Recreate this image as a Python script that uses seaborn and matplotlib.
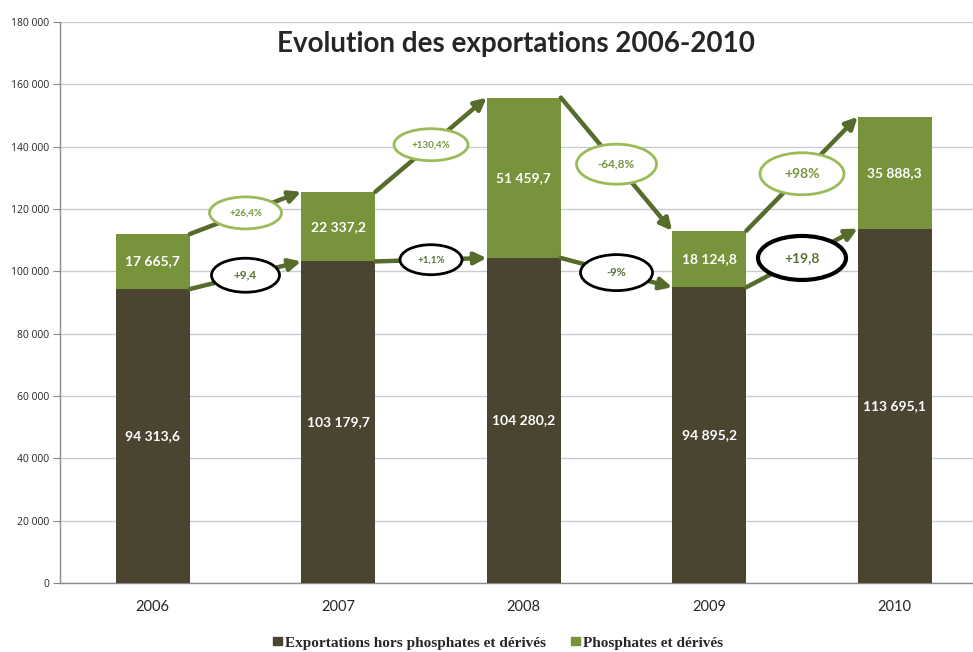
import matplotlib
matplotlib.use("Agg")
import matplotlib.pyplot as plt
from matplotlib.patches import Ellipse
import numpy as np
import pandas as pd
import seaborn as sbn

years = ["2006", "2007", "2008", "2009", "2010"]
hors_phosphates = [94313.6, 103179.7, 104280.2, 94895.2, 113695.1]
phosphates = [17665.7, 22337.2, 51459.7, 18124.8, 35888.3]
evol_hors = ["+9,4", "+1,1%", "-9%", "+19,8"]
evol_phos = ["+26,4%", "+130,4%", "-64,8%", "+98%"]
yticks = list(range(0, 180001, 20000))

dark = "#4a4430"
green = "#77933c"
arrow_col = "#566b2c"
light_green = "#9bbb59"

def fmt(v):
    s = "{:,.1f}".format(v).replace(",", " ").replace(".", ",")
    return s

sbn.set_style("white")
plt.rcParams["font.family"] = ["Lato", "DejaVu Sans"]

df = pd.DataFrame({"year": years, "hors": hors_phosphates, "phos": phosphates})
df["total"] = df["hors"] + df["phos"]

fig = plt.figure(figsize=(9.73, 6.52), dpi=100)
ax = fig.add_axes([60 / 973, 69 / 652, 927.5 / 973, 561 / 652])

sbn.barplot(data=df, x="year", y="total", color=green, width=0.4, ax=ax,
            saturation=1, zorder=3, linewidth=0)
sbn.barplot(data=df, x="year", y="hors", color=dark, width=0.4, ax=ax,
            saturation=1, zorder=3, linewidth=0)

ax.set_ylim(0, 180000)
ax.set_xlim(-0.5, 4.5)
ax.set_yticks(yticks)
ax.set_yticklabels(["{:,}".format(t).replace(",", " ") for t in yticks],
                   fontsize=7.5, family="Open Sans")
ax.yaxis.grid(True, color="#c9ccd4", lw=1, zorder=0)
ax.set_xlabel("")
ax.set_ylabel("")
ax.tick_params(axis="x", length=0, labelsize=10.5, pad=12)
ax.set_xticks(np.arange(-0.5, 5, 1), minor=True)
ax.tick_params(axis="x", which="minor", length=5, color="#888888", direction="out")
ax.tick_params(axis="y", length=5, color="#888888", direction="out", left=True, pad=3)
for s in ["top", "right"]:
    ax.spines[s].set_visible(False)
for s in ["left", "bottom"]:
    ax.spines[s].set_color("#8c8c8c")
    ax.spines[s].set_linewidth(1)

# value labels
for i in range(len(years)):
    h = hors_phosphates[i]
    p = phosphates[i]
    ax.text(i, h / 2, fmt(h), color="white", ha="center", va="center",
            fontsize=10, fontweight="bold", zorder=5)
    ax.text(i, h + p / 2, fmt(p), color="white", ha="center", va="center",
            fontsize=10, fontweight="bold", zorder=5)

# arrows + ellipses
px_x = 185.5
px_y = 561 / 180000
phos_sizes = [(72, 32, 7), (74, 32, 7), (80, 40, 8.5), (84, 42, 10)]
hors_sizes = [(68, 34, 8.5), (62, 30, 7), (72, 36, 8), (88, 44, 10)]
hors_lw = [2, 2, 2, 3]
for i in range(len(years) - 1):
    tot = [hors_phosphates[i] + phosphates[i], hors_phosphates[i + 1] + phosphates[i + 1]]
    for (y0, y1), label, (w, hgt, fs), ec, lw, tc in [
        (tot, evol_phos[i], phos_sizes[i], light_green, 2, green),
        ((hors_phosphates[i], hors_phosphates[i + 1]), evol_hors[i], hors_sizes[i],
         "black", hors_lw[i], "#5b7132")]:
        x0, x1 = i + 0.2, i + 0.8
        ax.annotate("", xy=(x1, y1), xytext=(x0, y0),
                    arrowprops=dict(arrowstyle="-|>,head_length=0.7,head_width=0.35",
                                    color=arrow_col, lw=3.2, shrinkA=0, shrinkB=0),
                    zorder=4)
        xm, ym = (x0 + x1) / 2, (y0 + y1) / 2
        e = Ellipse((xm, ym), w / px_x, hgt / px_y, facecolor="white",
                    edgecolor=ec, lw=lw, zorder=6)
        ax.add_patch(e)
        ax.text(xm, ym, label, ha="center", va="center", fontsize=fs,
                color=tc, fontweight="bold", zorder=7)

fig.text(516 / 973, 1 - 44 / 652, "Evolution des exportations 2006-2010",
         ha="center", va="center", fontsize=20, fontweight="bold")

# legend (kept at the very bottom edge, as in the reference)
fig.patches.append(plt.Rectangle((273 / 973, 7 / 652), 9 / 973, 8 / 652,
                                 transform=fig.transFigure, color=dark))
fig.text(285 / 973, 2 / 652, "Exportations hors phosphates et dérivés",
         family="Liberation Serif", fontweight="bold", fontsize=11, va="bottom")
fig.patches.append(plt.Rectangle((571 / 973, 7 / 652), 9 / 973, 8 / 652,
                                 transform=fig.transFigure, color=green))
fig.text(583 / 973, 2 / 652, "Phosphates et dérivés",
         family="Liberation Serif", fontweight="bold", fontsize=11, va="bottom")

fig.savefig("out.png", dpi=100)
